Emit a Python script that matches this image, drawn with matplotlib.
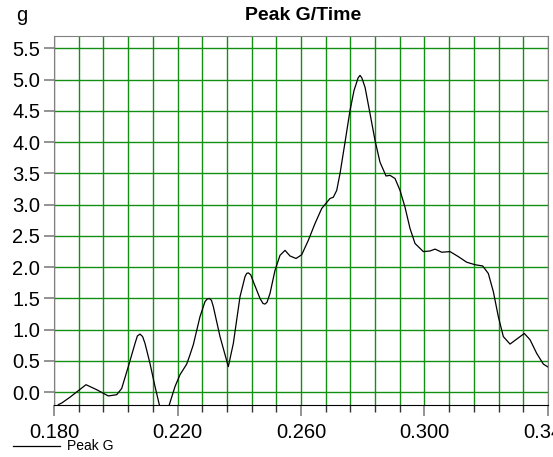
import matplotlib
matplotlib.use('Agg')
import matplotlib.pyplot as plt
import numpy as np
from matplotlib.ticker import FixedLocator

plt.rcParams['font.family'] = ['Liberation Sans', 'DejaVu Sans']

# curve (time in s, peak g)
time = [0.18139, 0.18259, 0.18518, 0.19036, 0.19383, 0.19759, 0.20031, 0.20193,
        0.20407, 0.20624, 0.20700, 0.20786, 0.20870, 0.20948, 0.21109, 0.21272,
        0.21411, 0.21482, 0.21573, 0.21660, 0.21735, 0.21919, 0.22081, 0.22298,
        0.22405, 0.22512, 0.22729, 0.22891, 0.22960, 0.23030, 0.23100, 0.23160,
        0.23377, 0.23646, 0.23808, 0.24025, 0.24187, 0.24240, 0.24293, 0.24370,
        0.24455, 0.24672, 0.24770, 0.24834, 0.24900, 0.24996, 0.25158, 0.25320,
        0.25482, 0.25644, 0.25839, 0.26023, 0.26237, 0.26454, 0.26671, 0.26940,
        0.27047, 0.27157, 0.27264, 0.27426, 0.27588, 0.27718, 0.27850, 0.27912,
        0.27970, 0.28074, 0.28235, 0.28397, 0.28559, 0.28754, 0.28883, 0.29045,
        0.29207, 0.29369, 0.29531, 0.29693, 0.29962, 0.30179, 0.30341, 0.30558,
        0.30827, 0.31095, 0.31367, 0.31636, 0.31885, 0.32067, 0.32229, 0.32391,
        0.32553, 0.32770, 0.32987, 0.33233, 0.33418, 0.33635, 0.33849, 0.34011]
peak_g = [-0.20, -0.17, -0.08, 0.12, 0.04, -0.06, -0.04, 0.06,
          0.41, 0.78, 0.90, 0.93, 0.89, 0.78, 0.46, 0.09,
          -0.20, -0.35, -0.45, -0.35, -0.20, 0.09, 0.28, 0.45,
          0.60, 0.76, 1.21, 1.45, 1.49, 1.50, 1.47, 1.37,
          0.89, 0.41, 0.78, 1.53, 1.85, 1.90, 1.91, 1.88,
          1.77, 1.50, 1.42, 1.41, 1.44, 1.58, 1.95, 2.19,
          2.27, 2.18, 2.14, 2.20, 2.43, 2.70, 2.94, 3.10,
          3.12, 3.23, 3.50, 4.00, 4.51, 4.83, 5.03, 5.07,
          5.03, 4.88, 4.46, 4.03, 3.68, 3.46, 3.47, 3.42,
          3.23, 2.96, 2.62, 2.38, 2.25, 2.26, 2.29, 2.24,
          2.25, 2.17, 2.08, 2.04, 2.02, 1.90, 1.61, 1.21,
          0.89, 0.77, 0.85, 0.94, 0.84, 0.62, 0.45, 0.40]

x_labels = ['0.180', '0.220', '0.260', '0.300', '0.340']
x_label_pos = [0.18, 0.22, 0.26, 0.30, 0.34]
y_ticks = [0.0, 0.5, 1.0, 1.5, 2.0, 2.5, 3.0, 3.5, 4.0, 4.5, 5.0, 5.5]

fig = plt.figure(figsize=(5.53, 4.57), dpi=100)
ax = fig.add_axes([54/553, 1 - 404.7/457, 494/553, 368.7/457])

line, = ax.plot(time, peak_g, color='black', lw=0.9, label='Peak G',
                solid_joinstyle='round')
ax.set_xlim(0.18, 0.34)
ax.set_ylim(-0.2, 5.7)

# grid every 0.008 s starting at 0.180, and every 0.5 g
ax.xaxis.set_major_locator(FixedLocator(x_label_pos))
ax.xaxis.set_minor_locator(FixedLocator(np.linspace(0.18, 0.34, 21)))
ax.set_xticklabels(x_labels)
ax.yaxis.set_major_locator(FixedLocator(y_ticks))
ax.set_yticklabels(['%.1f' % v for v in y_ticks])
ax.grid(True, which='both', color='#119011', lw=1.0)
ax.set_axisbelow(True)

ax.tick_params(axis='x', which='major', length=8, width=1.2, color='#808080',
               pad=5, labelsize=14.5)
ax.tick_params(axis='x', which='minor', length=5, width=1, color='#333333')
ax.tick_params(axis='y', which='major', length=7, width=1.2, color='#808080',
               pad=3, labelsize=14.5)

for s in ['top', 'right', 'left']:
    ax.spines[s].set_color('#808080')
ax.spines['bottom'].set_color('black')

fig.text(303/553, 1 - 20/457, 'Peak G/Time', ha='center', va='baseline',
         fontsize=14, fontweight='bold')
fig.text(22/553, 1 - 21/457, 'g', ha='center', va='baseline', fontsize=14.5)

fig.legend(handles=[line], loc='center left', bbox_to_anchor=(13/553, 10.5/457),
           frameon=False, fontsize=10, handlelength=3.4, handletextpad=0.5,
           borderpad=0, borderaxespad=0)

fig.savefig('out.png', dpi=100)
